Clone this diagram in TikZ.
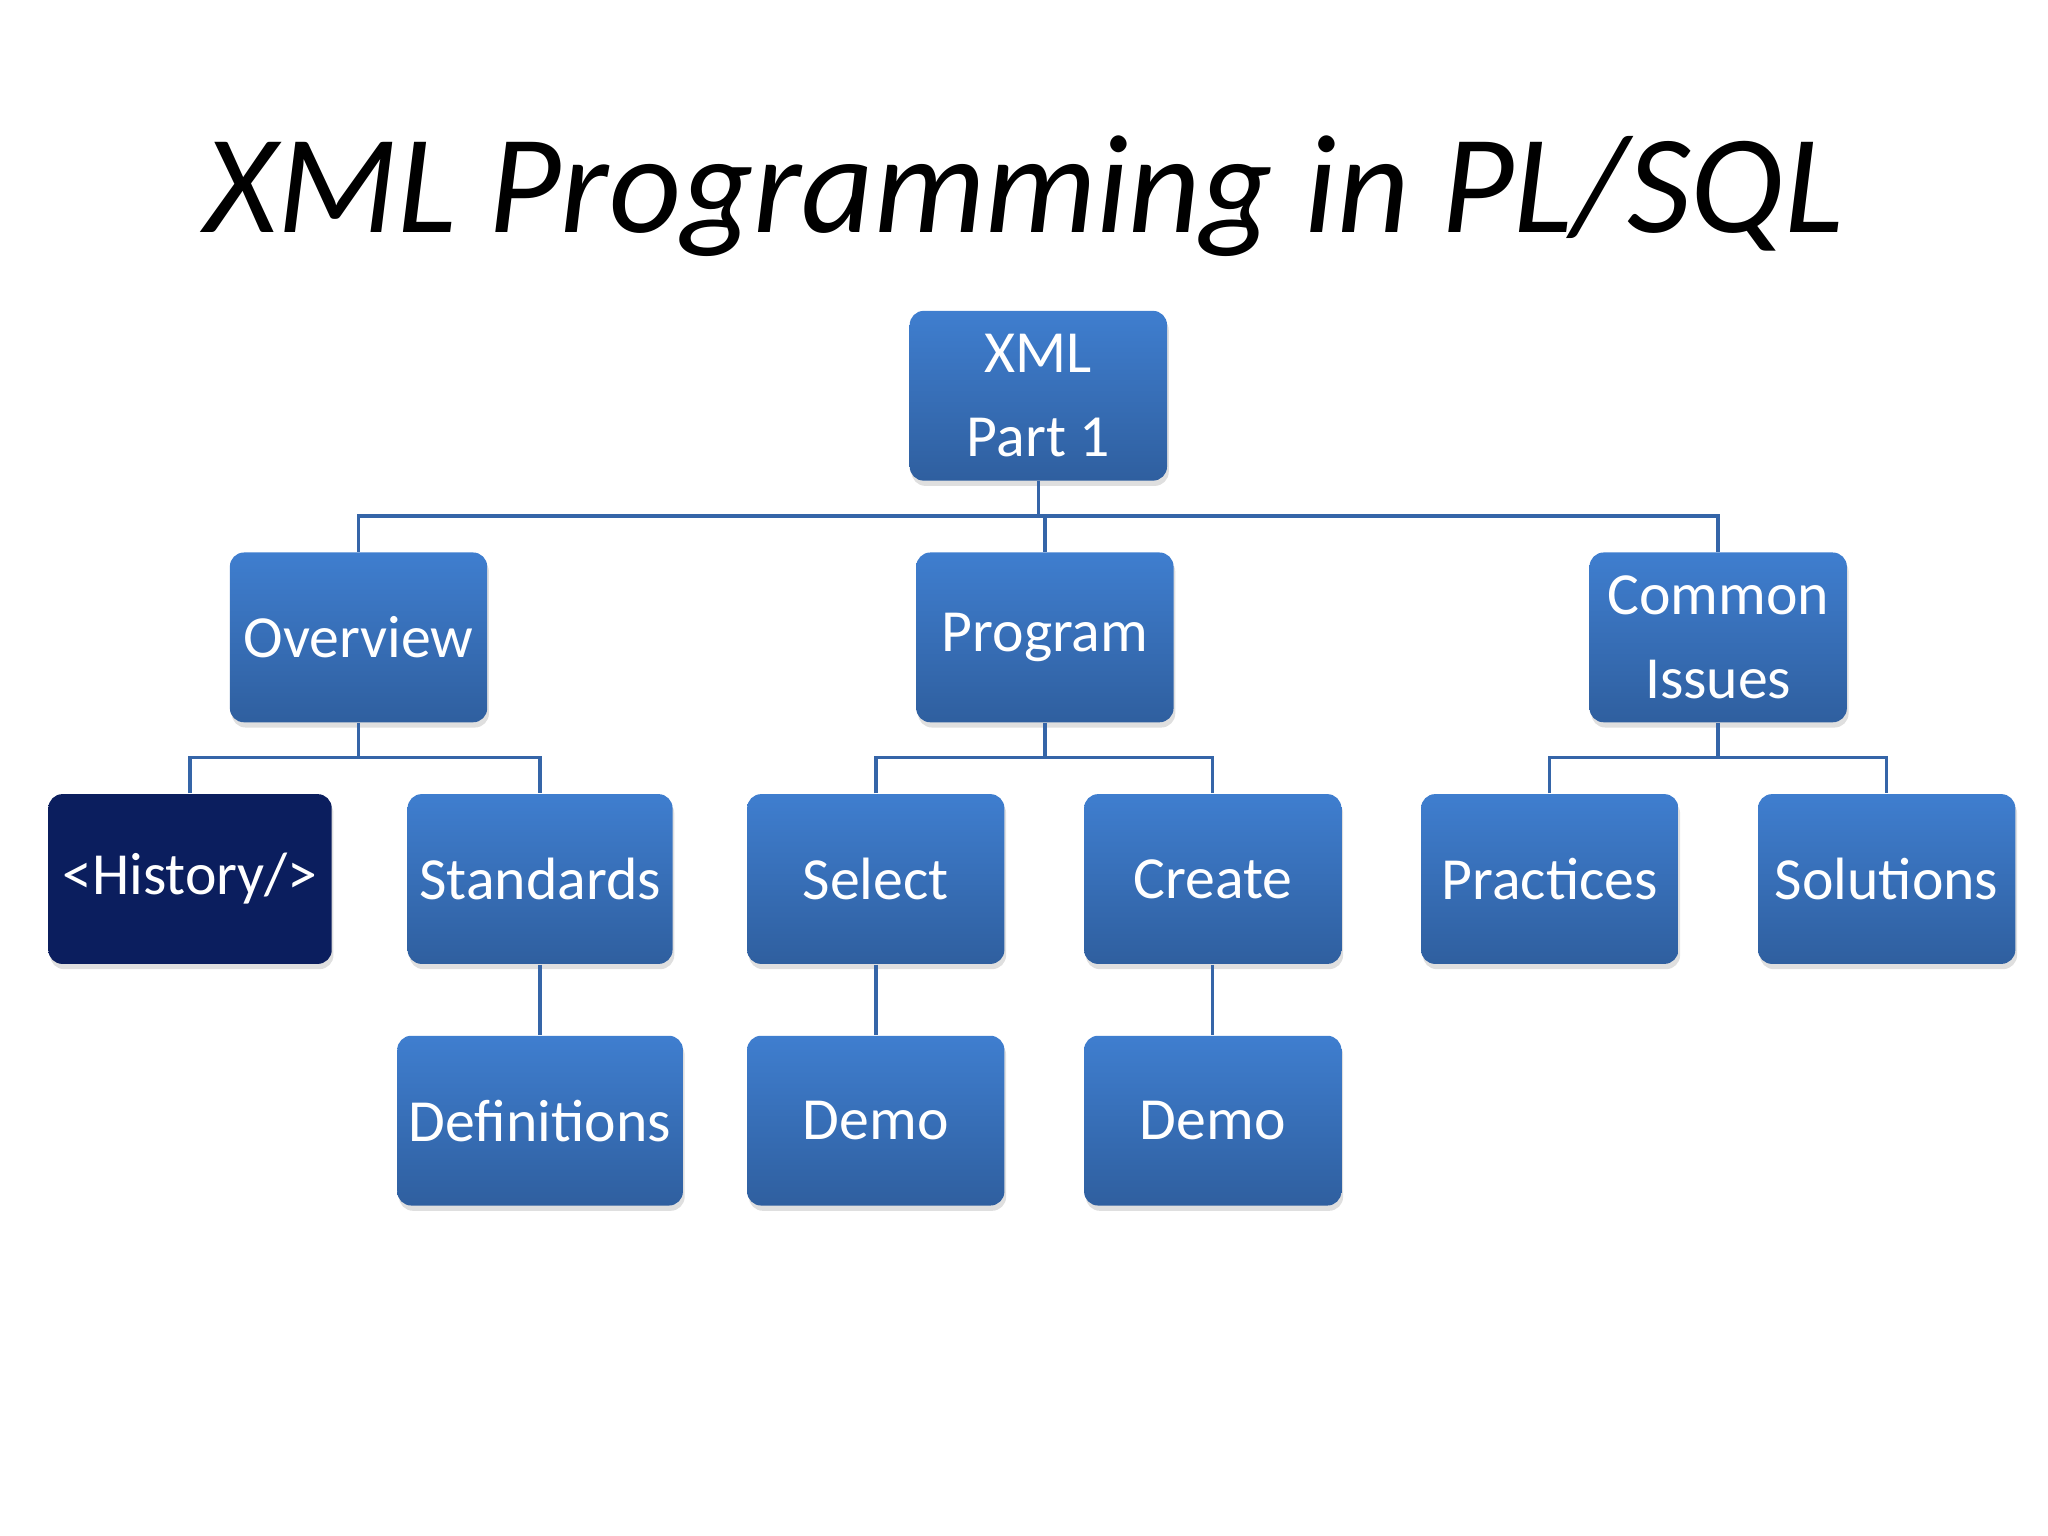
\documentclass[tikz,border=0pt]{standalone}
\usepackage{fontspec}
\setmainfont{Carlito}
\usetikzlibrary{shadows}
\begin{document}
\begin{tikzpicture}[x=0.01306cm,y=-0.01306cm,
 box/.style={draw=none,rounded corners=4pt,top color=blue1,bottom color=blue2,
   minimum width=2.573cm,minimum height=1.698cm,text=white,font=\fontsize{17}{24}\selectfont,align=center,
   drop shadow={shadow xshift=0.5pt,shadow yshift=-1.5pt,opacity=0.25}},
 conn/.style={draw=lineb,line width=1pt}]
\definecolor{blue1}{HTML}{3F7ECF}
\definecolor{blue2}{HTML}{2F5F9F}
\definecolor{lineb}{HTML}{3565A8}
\definecolor{dark}{HTML}{0B1E5E}
\useasboundingbox (0,0) rectangle (1568,1176);
\node[font=\itshape\fontsize{40}{48}\selectfont] (title) at (784,150) {XML Programming in PL/SQL};
\node[box] (xml) at (795,303) {XML\\Part 1};
\node[box] (overview) at (274.5,488) {Overview};
\node[box] (program) at (800,488) {Program};
\node[box] (common) at (1315.5,488) {Common\\Issues};
\node[box,top color=dark,bottom color=dark,minimum width=2.834cm] (history) at (145.5,673) {<History/>};
\node[box] (standards) at (413.5,673) {Standards};
\node[box] (select) at (670.5,673) {Select};
\node[box] (create) at (928.5,673) {Create};
\node[box] (practices) at (1186.5,673) {Practices};
\node[box] (solutions) at (1444.5,673) {Solutions};
\node[box] (definitions) at (413.5,858) {Definitions};
\node[box] (demo1) at (670.5,858) {Demo};
\node[box] (demo2) at (928.5,858) {Demo};
\coordinate (b1) at (795,395);
\coordinate (b2) at (274.5,580);
\coordinate (b3) at (800,580);
\coordinate (b4) at (1315.5,580);
\draw[conn] (xml.south) -- (b1);
\draw[conn] (overview.north) |- (b1) -| (common.north);
\draw[conn] (program.north) -- (program.north |- b1);
\draw[conn] (overview.south) -- (b2);
\draw[conn] (history.north) |- (b2) -| (standards.north);
\draw[conn] (program.south) -- (b3);
\draw[conn] (select.north) |- (b3) -| (create.north);
\draw[conn] (common.south) -- (b4);
\draw[conn] (practices.north) |- (b4) -| (solutions.north);
\draw[conn] (standards.south) -- (definitions.north);
\draw[conn] (select.south) -- (demo1.north);
\draw[conn] (create.south) -- (demo2.north);
\end{tikzpicture}
\end{document}
